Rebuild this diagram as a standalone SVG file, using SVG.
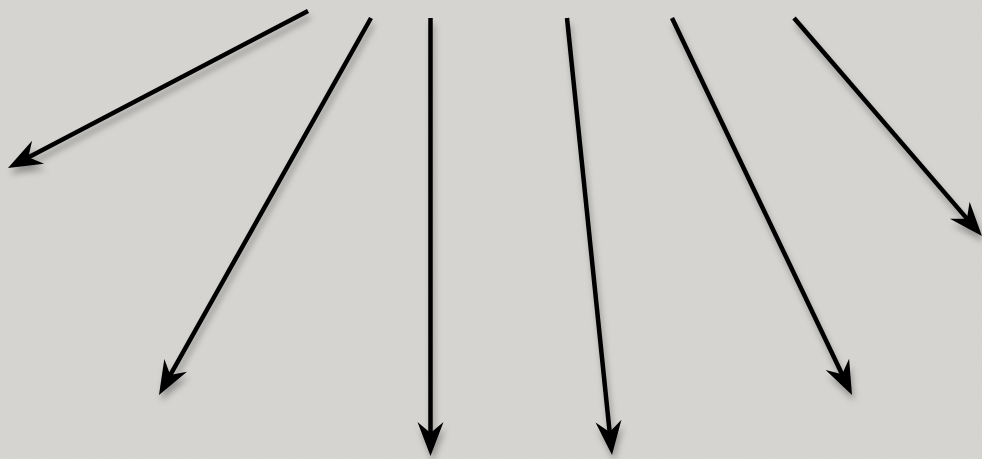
<svg xmlns="http://www.w3.org/2000/svg" width="982" height="459" viewBox="0 0 982 459">
  <defs>
    <filter id="shadow" x="-20%" y="-20%" width="140%" height="140%">
      <feDropShadow dx="2" dy="6" stdDeviation="3" flood-color="#000" flood-opacity="0.3"/>
    </filter>
    <filter id="grain" x="0" y="0" width="100%" height="100%">
      <feTurbulence type="fractalNoise" baseFrequency="0.9" numOctaves="2" seed="3" result="n"/>
      <feColorMatrix in="n" type="matrix" values="0 0 0 0 0.5  0 0 0 0 0.5  0 0 0 0 0.5  0 0 0 0.06 0"/>
    </filter>
    <marker id="head" markerUnits="userSpaceOnUse" viewBox="-15 -14 36 28" refX="0" refY="0" markerWidth="36" markerHeight="28" orient="auto" overflow="visible">
      <path d="M20,0 L-14,-13 L-3,0 L-14,13 Z" fill="#000"/>
    </marker>
    <style>
      .arrow { stroke: #000; stroke-width: 4.5; fill: none; marker-end: url(#head); }
    </style>
  </defs>
  <rect width="982" height="459" fill="#d6d5d2"/>
  <rect width="982" height="459" filter="url(#grain)"/>
  <g id="connectors" filter="url(#shadow)">
    <line class="arrow" x1="308" y1="11" x2="25.7" y2="158.7"/>
    <line class="arrow" x1="371" y1="18" x2="168.8" y2="377.6"/>
    <line class="arrow" x1="430.5" y1="18" x2="430.5" y2="436"/>
    <line class="arrow" x1="567" y1="18" x2="609.95" y2="435.1"/>
    <line class="arrow" x1="672" y1="18" x2="843.4" y2="377"/>
    <line class="arrow" x1="794" y1="18" x2="968.9" y2="220.9"/>
  </g>
</svg>
